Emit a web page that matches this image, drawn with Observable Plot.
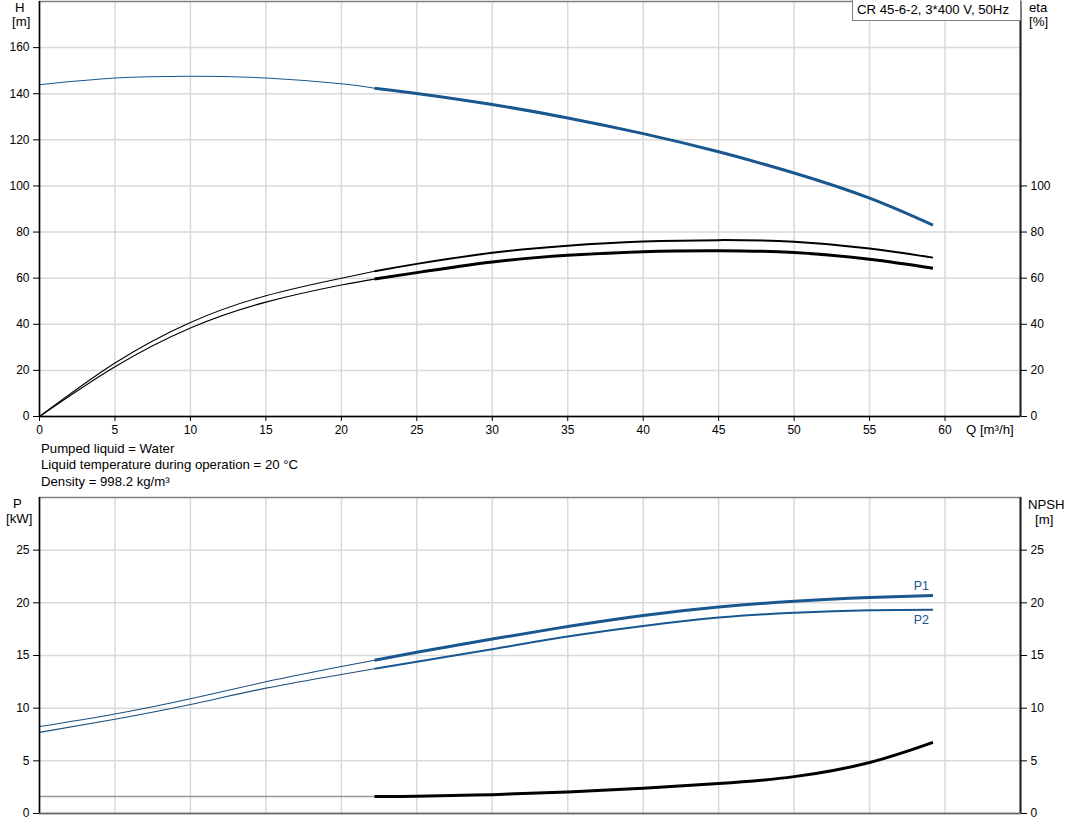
<!DOCTYPE html>
<html><head><meta charset="utf-8">
<script src="https://cdn.jsdelivr.net/npm/d3@7"></script>
<script src="https://cdn.jsdelivr.net/npm/@observablehq/plot@0.6"></script>
<style>
body{margin:0;background:#fff;font-family:"Liberation Sans",Arial,sans-serif;color:#000}
#wrap{position:relative;width:1071px;height:833px;overflow:hidden}
.abs{position:absolute;white-space:nowrap;font-size:12px;line-height:14px}
.note{font-size:13.2px;line-height:16px}
svg{position:absolute;left:0}
</style></head><body><div id="wrap"></div>
<script>
// ---- data ----
const qThin  = [0, 5, 10, 15, 20, 22.2];
const qThick = [22.2, 25, 30, 35, 40, 45, 50, 55, 59.2];

const hThin  = [143.9, 146.8, 147.6, 146.8, 144.3, 142.4];
const hThick = [142.4, 140.1, 135.3, 129.5, 122.7, 114.8, 105.6, 94.7, 83.0];

const etaAThin  = [0, 23.2, 40.8, 52.4, 60.0, 63.0];
const etaAThick = [63.0, 66.2, 71.0, 74.1, 75.9, 76.5, 75.8, 72.9, 68.9];
const etaBThin  = [0, 21.6, 38.4, 49.6, 57.0, 59.6];
const etaBThick = [59.6, 62.4, 67.0, 69.9, 71.5, 71.9, 71.1, 68.2, 64.3];

const p1Thin  = [8.25, 9.45, 10.9, 12.5, 13.95, 14.55];
const p1Thick = [14.55, 15.3, 16.56, 17.75, 18.8, 19.6, 20.15, 20.5, 20.7];
const p2Thin  = [7.7, 8.95, 10.35, 11.9, 13.2, 13.75];
const p2Thick = [13.75, 14.4, 15.6, 16.8, 17.8, 18.6, 19.06, 19.3, 19.35];

const npshThin  = [1.62, 1.62];
const npshThinQ = [0, 22.2];
const npshThick = [1.62, 1.64, 1.79, 2.05, 2.4, 2.84, 3.5, 4.84, 6.75];

const qTicks = [0, 5, 10, 15, 20, 25, 30, 35, 40, 45, 50, 55, 60];
const qGrid = [5, 10, 15, 20, 25, 30, 35, 40, 45, 50, 55, 60];
const hTicks = [0, 20, 40, 60, 80, 100, 120, 140, 160];
const hGrid = [20, 40, 60, 80, 100, 120, 140, 160];
const etaTicks = [0, 20, 40, 60, 80, 100];
const pTicks = [0, 5, 10, 15, 20, 25];
const pGrid = [5, 10, 15, 20, 25];

const title = "CR 45-6-2, 3*400 V, 50Hz";
const notes = ["Pumped liquid = Water", "Liquid temperature during operation = 20 °C", "Density = 998.2 kg/m³"];

// ---- helpers ----
const rows = (q, v) => q.map((x, i) => ({q: x, v: v[i]}));
const BLUE = "#19578f";
const GRID = "#d9d9d9";
const FONT = "'Liberation Sans', Arial, sans-serif";
const wrap = document.getElementById("wrap");

function thin(q, v, stroke) {
  return Plot.line(rows(q, v), {x: "q", y: "v", stroke, strokeWidth: 1.1, curve: "natural"});
}
function thick(q, v, stroke, w) {
  return Plot.line(rows(q, v), {x: "q", y: "v", stroke, strokeWidth: w, curve: "natural", strokeLinecap: "butt"});
}

// ---- top chart ----
const topPlot = Plot.plot({
  width: 1071, height: 440,
  marginLeft: 39, marginRight: 51, marginTop: 1, marginBottom: 24,
  x: {domain: [0, 65], axis: null},
  y: {domain: [0, 180], axis: null},
  style: {fontFamily: FONT, fontSize: "12px", color: "#000", background: "transparent", overflow: "visible"},
  marks: [
    Plot.ruleX(qGrid, {stroke: GRID, strokeWidth: 1.5}),
    Plot.ruleY(hGrid, {stroke: GRID, strokeWidth: 1.5}),
    Plot.frame({stroke: "#808080", strokeWidth: 1.5}),
    thin(qThin, hThin, BLUE),
    thick(qThick, hThick, BLUE, 3),
    thin(qThin, etaAThin, "#000"),
    thick(qThick, etaAThick, "#000", 2),
    thin(qThin, etaBThin, "#000"),
    thick(qThick, etaBThick, "#000", 3),
    Plot.ruleX([0], {stroke: "#000", strokeWidth: 1.5}),
    Plot.ruleX([65], {stroke: "#222", strokeWidth: 2}),
    Plot.ruleY([0], {stroke: "#000", strokeWidth: 1.5}),
    Plot.axisY({ticks: hTicks, anchor: "left", tickSize: 6, tickPadding: 4, label: null, tickFormat: d => d}),
    Plot.axisY({ticks: etaTicks, anchor: "right", tickSize: 6, tickPadding: 4, label: null, tickFormat: d => d}),
    Plot.axisX({ticks: qTicks, anchor: "bottom", tickSize: 5, tickPadding: 4, label: null, tickFormat: d => d})
  ]
});
topPlot.style.top = "0px";
wrap.appendChild(topPlot);

// ---- bottom chart ----
const botPlot = Plot.plot({
  width: 1071, height: 330,
  marginLeft: 39, marginRight: 51, marginTop: 7, marginBottom: 7,
  x: {domain: [0, 65], axis: null},
  y: {domain: [0, 30], axis: null},
  style: {fontFamily: FONT, fontSize: "12px", color: "#000", background: "transparent", overflow: "visible"},
  marks: [
    Plot.ruleX(qGrid, {stroke: GRID, strokeWidth: 1.5}),
    Plot.ruleY(pGrid, {stroke: GRID, strokeWidth: 1.5}),
    Plot.frame({stroke: "#808080", strokeWidth: 1.5}),
    thin(qThin, p1Thin, "#1d4f7c"),
    thick(qThick, p1Thick, BLUE, 3),
    thin(qThin, p2Thin, "#1d4f7c"),
    thick(qThick, p2Thick, BLUE, 2),
    Plot.line(rows(npshThinQ, npshThin), {x: "q", y: "v", stroke: "#999", strokeWidth: 1.5}),
    thick(qThick, npshThick, "#000", 3),
    Plot.text([{q: qThick.at(-1), v: p1Thick.at(-1), t: "P1"}], {x: "q", y: "v", text: "t", textAnchor: "end", dx: -4, dy: -9, fill: BLUE, fontSize: 12.5}),
    Plot.text([{q: qThick.at(-1), v: p2Thick.at(-1), t: "P2"}], {x: "q", y: "v", text: "t", textAnchor: "end", dx: -4, dy: 10, fill: BLUE, fontSize: 12.5}),
    Plot.ruleX([0], {stroke: "#000", strokeWidth: 1.5}),
    Plot.ruleX([65], {stroke: "#222", strokeWidth: 2}),
    Plot.ruleY([0], {stroke: "#666", strokeWidth: 1.5}),
    Plot.axisY({ticks: pTicks, anchor: "left", tickSize: 6, tickPadding: 4, label: null, tickFormat: d => d}),
    Plot.axisY({ticks: pTicks, anchor: "right", tickSize: 6, tickPadding: 4, label: null, tickFormat: d => d})
  ]
});
botPlot.style.top = "490px";
wrap.appendChild(botPlot);

// ---- html text ----
function label(txt, left, top, cls, extra) {
  const d = document.createElement("div");
  d.className = "abs " + (cls || "");
  d.textContent = txt;
  d.style.left = left + "px";
  d.style.top = top + "px";
  if (extra) Object.assign(d.style, extra);
  wrap.appendChild(d);
  return d;
}
label("H", 15, 0, "note");
label("[m]", 12, 14, "note");
label("eta", 1029, 0, "note");
label("[%]", 1029, 14, "note");
label("P", 13, 496, "note");
label("[kW]", 6, 511, "note");
label("NPSH", 1028, 497, "note");
label("[m]", 1035, 512, "note");
label("Q [m³/h]", 966, 422, "note");
notes.forEach((t, i) => label(t, 41, 441 + i * 16.3, "note"));
label(title, 852, 0, "note", {width: "163px", height: "20px", border: "1px solid #808080", borderTop: "none", background: "#fff", paddingLeft: "4px", lineHeight: "20px"});
</script></body></html>
